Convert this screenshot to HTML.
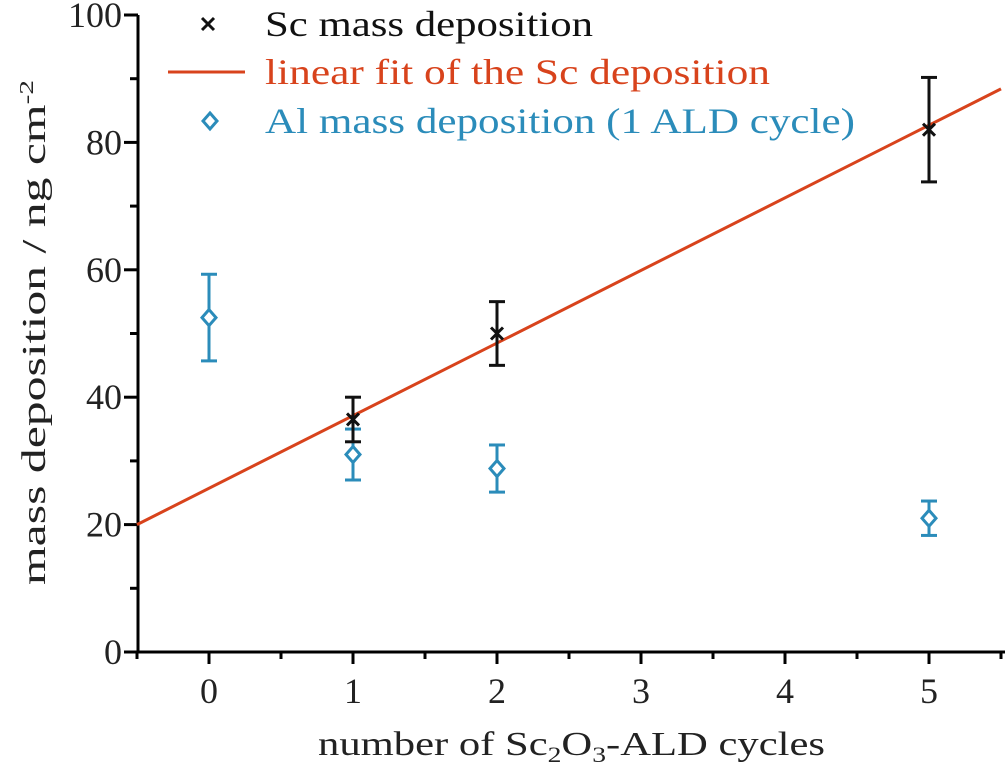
<!DOCTYPE html>
<html><head><meta charset="utf-8"><style>
html,body{margin:0;padding:0;background:#fff;}
svg{display:block;}
svg text{font-family:"Liberation Serif",serif;}
</style></head><body>
<svg id="chart" width="1005" height="765" viewBox="0 0 1005 765"></svg>
<script>
const xCats = [0,1,2,5];
const xTickLabels = ["0","1","2","3","4","5"];
const xTickValues = [0,1,2,3,4,5];
const yTickValues = [0,20,40,60,80,100];
const scX = [1,2,5];
const scY = [36.5,50,82];
const scErr = [3.5,5,8.2];
const alX = [0,1,2,5];
const alY = [52.5,31,28.8,21];
const alErr = [6.8,4,3.7,2.7];
const fitSlope = 11.4;
const fitIntercept = 25.7;

const NS="http://www.w3.org/2000/svg";
const svg=document.getElementById('chart');
const X=v=>209+(v)*144;
const Y=v=>652-v*6.37;
const RED="#d8431c", BLUE="#2b8cba";
function el(t,a,p){const e=document.createElementNS(NS,t);for(const k in a)e.setAttribute(k,a[k]);(p||svg).appendChild(e);return e;}

let ax=el('path',{d:`M138,15 L138,652 L1005,652`,fill:'none',stroke:'#000','stroke-width':3});


for(let i=-0.5;i<=5.5;i+=0.5){
  const major=Number.isInteger(i);
  const t=el('line',{x1:X(i),x2:X(i),y1:652,y2:652+(major?12:7),stroke:'#000','stroke-width':3});
  
  
}
xTickValues.forEach((v,i)=>{
  const t=el('text',{x:X(v),y:703,'font-size':36,'text-anchor':'middle',fill:'#222'});
  t.textContent=xTickLabels[i];
  
  
});
for(let v=0;v<=100;v+=10){
  const major=v%20===0;
  const t=el('line',{x1:138-(major?14:8),x2:138,y1:Y(v),y2:Y(v),stroke:'#000','stroke-width':3});
  
  
}
yTickValues.forEach(v=>{
  const t=el('text',{x:122,y:Y(v)+12,'font-size':36,'text-anchor':'end',fill:'#222'});
  t.textContent=v;
  
  
});
let xt=el('text',{x:318,y:755,'font-size':34,fill:'#222',textLength:507,lengthAdjust:'spacingAndGlyphs'});
xt.innerHTML='number of Sc<tspan font-size="22" dy="7">2</tspan><tspan dy="-7">O</tspan><tspan font-size="22" dy="7">3</tspan><tspan dy="-7">-ALD cycles</tspan>';


let yt=el('text',{transform:'translate(45,585) rotate(-90)','font-size':34,fill:'#222',textLength:505,lengthAdjust:'spacingAndGlyphs'});
yt.innerHTML='mass deposition / ng cm<tspan font-size="20" dy="-12">-2</tspan>';



const x0=-0.5,x1=5.5;
let fl=el('line',{x1:X(x0),y1:Y(fitIntercept+fitSlope*x0),x2:X(x1),y2:Y(fitIntercept+fitSlope*x1),stroke:RED,'stroke-width':3});



function errbar(x,y,e,c,name){
  const g=el('g',{stroke:c,'stroke-width':3,fill:'none'});
  
  
  el('line',{x1:X(x),x2:X(x),y1:Y(y+e),y2:Y(y-e)},g);
  el('line',{x1:X(x)-8,x2:X(x)+8,y1:Y(y+e),y2:Y(y+e)},g);
  el('line',{x1:X(x)-8,x2:X(x)+8,y1:Y(y-e),y2:Y(y-e)},g);
}
function cross(cx,cy,name){
  const g=el('g',{stroke:'#111','stroke-width':3});
  
  
  el('line',{x1:cx-6,y1:cy-6,x2:cx+6,y2:cy+6},g);
  el('line',{x1:cx-6,y1:cy+6,x2:cx+6,y2:cy-6},g);
}
function diamond(cx,cy,name){
  const p=el('path',{d:`M${cx},${cy-8} L${cx+7},${cy} L${cx},${cy+8} L${cx-7},${cy} Z`,fill:'#fff',stroke:BLUE,'stroke-width':3});
  
  
}
alX.forEach((x,i)=>{errbar(x,alY[i],alErr[i],BLUE,'al-error-bar');});
alX.forEach((x,i)=>{diamond(X(x),Y(alY[i]),'al-point');});
scX.forEach((x,i)=>{errbar(x,scY[i],scErr[i],'#111','sc-error-bar');cross(X(x),Y(scY[i]),'sc-point');});

const lg=el('g',{});


cross(208,24,'legend-sc-marker');
const lr=el('line',{x1:168,x2:245,y1:72,y2:72,stroke:RED,'stroke-width':3});


diamond(210,121,'legend-al-marker');
[["Sc mass deposition",36,"#111",328],["linear fit of the Sc deposition",84,RED,505],["Al mass deposition (1 ALD cycle)",133,BLUE,590]].forEach(([t,y,c,w])=>{
  const e=el('text',{x:265,y:y,'font-size':36,fill:c,textLength:w,lengthAdjust:'spacingAndGlyphs'},lg);
  e.textContent=t;
  
  
});
</script>
</body></html>
